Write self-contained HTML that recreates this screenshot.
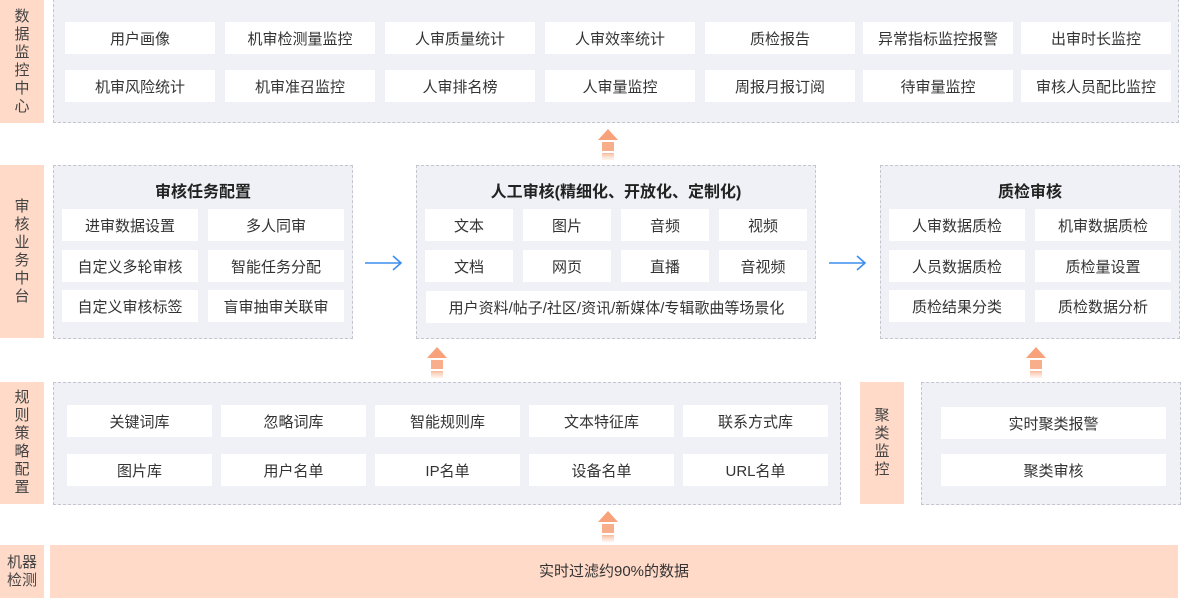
<!DOCTYPE html>
<html><head><meta charset="utf-8"><style>
body{margin:0;width:1181px;height:598px;position:relative;background:#fff;overflow:hidden;font-family:"Liberation Sans","Noto Sans CJK SC",sans-serif;color:#333;}
div{position:absolute;box-sizing:border-box;}
.lab{background:#ffdac8;display:flex;align-items:center;justify-content:center;text-align:center;font-size:15px;line-height:18px;color:#444;}
.pan{background:#f0f1f6;border:1px dashed #c4c6cf;}
.it{background:#fff;height:32px;display:flex;align-items:center;justify-content:center;font-size:15px;color:#333;}
.tt{font-size:16px;font-weight:bold;text-align:center;color:#222;}
</style></head><body>
<div class="lab" style="left:0;top:0;width:44px;height:123px">数<br>据<br>监<br>控<br>中<br>心</div>
<div class="lab" style="left:0;top:165px;width:44px;height:173px">审<br>核<br>业<br>务<br>中<br>台</div>
<div class="lab" style="left:0;top:382px;width:44px;height:122px">规<br>则<br>策<br>略<br>配<br>置</div>
<div class="lab" style="left:0;top:545px;width:44px;height:53px">机器<br>检测</div>
<div class="lab" style="left:860px;top:382px;width:44px;height:122px">聚<br>类<br>监<br>控</div>
<div class="lab" style="left:50px;top:545px;width:1128px;height:53px;color:#333">实时过滤约90%的数据</div>

<div class="pan" style="left:53px;top:-1px;width:1126px;height:124px"></div>
<div class="it" style="left:65px;top:22px;width:150px">用户画像</div>
<div class="it" style="left:225px;top:22px;width:150px">机审检测量监控</div>
<div class="it" style="left:385px;top:22px;width:150px">人审质量统计</div>
<div class="it" style="left:545px;top:22px;width:150px">人审效率统计</div>
<div class="it" style="left:705px;top:22px;width:150px">质检报告</div>
<div class="it" style="left:863px;top:22px;width:150px">异常指标监控报警</div>
<div class="it" style="left:1021px;top:22px;width:150px">出审时长监控</div>
<div class="it" style="left:65px;top:70px;width:150px">机审风险统计</div>
<div class="it" style="left:225px;top:70px;width:150px">机审准召监控</div>
<div class="it" style="left:385px;top:70px;width:150px">人审排名榜</div>
<div class="it" style="left:545px;top:70px;width:150px">人审量监控</div>
<div class="it" style="left:705px;top:70px;width:150px">周报月报订阅</div>
<div class="it" style="left:863px;top:70px;width:150px">待审量监控</div>
<div class="it" style="left:1021px;top:70px;width:150px">审核人员配比监控</div>

<div class="pan" style="left:53px;top:165px;width:300px;height:174px"></div>
<div class="tt" style="left:53px;top:178px;width:300px">审核任务配置</div>
<div class="it" style="left:62px;top:209px;width:136px">进审数据设置</div>
<div class="it" style="left:208px;top:209px;width:136px">多人同审</div>
<div class="it" style="left:62px;top:250px;width:136px">自定义多轮审核</div>
<div class="it" style="left:208px;top:250px;width:136px">智能任务分配</div>
<div class="it" style="left:62px;top:290px;width:136px">自定义审核标签</div>
<div class="it" style="left:208px;top:290px;width:136px">盲审抽审关联审</div>

<div class="pan" style="left:416px;top:165px;width:400px;height:174px"></div>
<div class="tt" style="left:416px;top:178px;width:400px">人工审核(精细化、开放化、定制化)</div>
<div class="it" style="left:425px;top:209px;width:88px">文本</div>
<div class="it" style="left:523px;top:209px;width:88px">图片</div>
<div class="it" style="left:621px;top:209px;width:88px">音频</div>
<div class="it" style="left:719px;top:209px;width:88px">视频</div>
<div class="it" style="left:425px;top:250px;width:88px">文档</div>
<div class="it" style="left:523px;top:250px;width:88px">网页</div>
<div class="it" style="left:621px;top:250px;width:88px">直播</div>
<div class="it" style="left:719px;top:250px;width:88px">音视频</div>
<div class="it" style="left:426px;top:291px;width:381px">用户资料/帖子/社区/资讯/新媒体/专辑歌曲等场景化</div>

<div class="pan" style="left:880px;top:165px;width:300px;height:174px"></div>
<div class="tt" style="left:880px;top:178px;width:300px">质检审核</div>
<div class="it" style="left:889px;top:209px;width:136px">人审数据质检</div>
<div class="it" style="left:1035px;top:209px;width:136px">机审数据质检</div>
<div class="it" style="left:889px;top:250px;width:136px">人员数据质检</div>
<div class="it" style="left:1035px;top:250px;width:136px">质检量设置</div>
<div class="it" style="left:889px;top:290px;width:136px">质检结果分类</div>
<div class="it" style="left:1035px;top:290px;width:136px">质检数据分析</div>

<svg style="position:absolute;left:362px;top:253px" width="42" height="20"><path d="M3 10H39M31 3L39 10L31 17" stroke="#3d8ef0" stroke-width="1.6" fill="none"/></svg>
<svg style="position:absolute;left:826px;top:253px" width="42" height="20"><path d="M3 10H39M31 3L39 10L31 17" stroke="#3d8ef0" stroke-width="1.6" fill="none"/></svg>

<div class="pan" style="left:53px;top:382px;width:788px;height:123px"></div>
<div class="it" style="left:67px;top:405px;width:145px">关键词库</div>
<div class="it" style="left:221px;top:405px;width:145px">忽略词库</div>
<div class="it" style="left:375px;top:405px;width:145px">智能规则库</div>
<div class="it" style="left:529px;top:405px;width:145px">文本特征库</div>
<div class="it" style="left:683px;top:405px;width:145px">联系方式库</div>
<div class="it" style="left:67px;top:454px;width:145px">图片库</div>
<div class="it" style="left:221px;top:454px;width:145px">用户名单</div>
<div class="it" style="left:375px;top:454px;width:145px">IP名单</div>
<div class="it" style="left:529px;top:454px;width:145px">设备名单</div>
<div class="it" style="left:683px;top:454px;width:145px">URL名单</div>

<div class="pan" style="left:921px;top:382px;width:260px;height:123px"></div>
<div class="it" style="left:941px;top:407px;width:225px">实时聚类报警</div>
<div class="it" style="left:941px;top:454px;width:225px">聚类审核</div>

<svg style="position:absolute;left:598px;top:129px" width="20" height="32"><defs><linearGradient id="g" x1="0" y1="0" x2="0" y2="1"><stop offset="0" stop-color="#f7a883" stop-opacity="0.8"/><stop offset="1" stop-color="#fde2d5" stop-opacity="0.4"/></linearGradient></defs><polygon points="10,0 20,11 0,11" fill="#f8a27c"/><rect x="4" y="13" width="12" height="9" fill="#f8ad8b"/><rect x="4" y="24" width="12" height="7" fill="url(#g)"/></svg>
<svg style="position:absolute;left:427px;top:347px" width="20" height="32"><polygon points="10,0 20,11 0,11" fill="#f8a27c"/><rect x="4" y="13" width="12" height="9" fill="#f8ad8b"/><rect x="4" y="24" width="12" height="7" fill="url(#g)"/></svg>
<svg style="position:absolute;left:1026px;top:347px" width="20" height="32"><polygon points="10,0 20,11 0,11" fill="#f8a27c"/><rect x="4" y="13" width="12" height="9" fill="#f8ad8b"/><rect x="4" y="24" width="12" height="7" fill="url(#g)"/></svg>
<svg style="position:absolute;left:598px;top:511px" width="20" height="32"><polygon points="10,0 20,11 0,11" fill="#f8a27c"/><rect x="4" y="13" width="12" height="9" fill="#f8ad8b"/><rect x="4" y="24" width="12" height="7" fill="url(#g)"/></svg>
</body></html>
